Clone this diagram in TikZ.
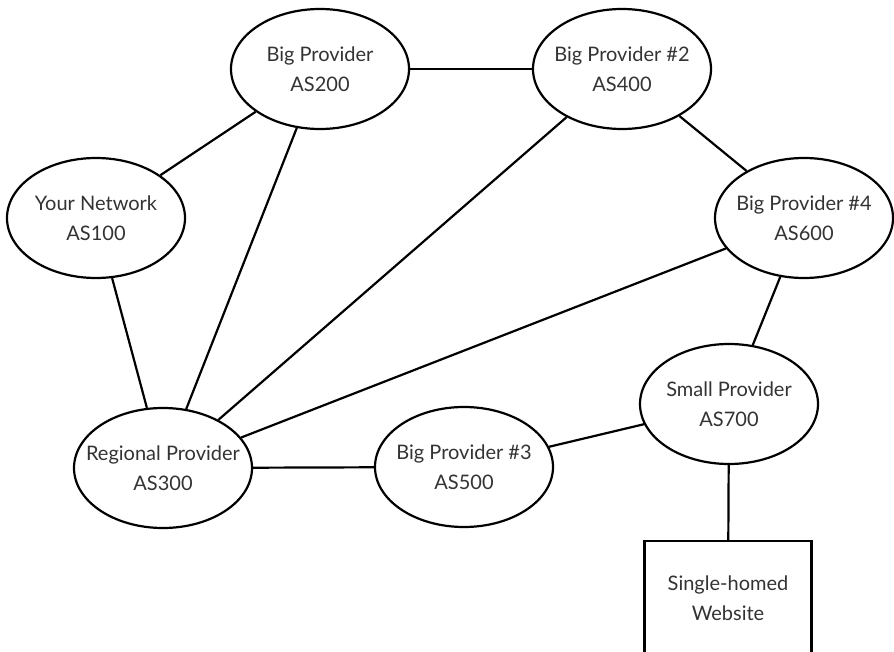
\documentclass[tikz,border=0pt]{standalone}
\usepackage{fontspec}
\setmainfont{Lato}
\usetikzlibrary{shapes.geometric}
\definecolor{txtgray}{gray}{0.2}
\begin{document}
\begin{tikzpicture}[x=1pt,y=-1pt,
  asnode/.style={ellipse,draw,line width=2.2pt,minimum width=178pt,minimum height=120pt,
    inner xsep=-40pt,inner ysep=-20pt,align=center,font=\fontsize{20}{30}\selectfont,text=txtgray},
  sitebox/.style={rectangle,draw,line width=2.2pt,minimum width=167pt,minimum height=114pt,
    inner sep=0pt,align=center,font=\fontsize{20}{30}\selectfont,text=txtgray},
  link/.style={line width=2.2pt}]
\useasboundingbox (0,0) rectangle (894,652);
\clip (0,0) rectangle (894,652);
\node[asnode] (as200) at (320,69) {Big Provider\\AS200};
\node[asnode] (as100) at (96,218) {Your Network\\AS100};
\node[asnode] (as400) at (622,69) {Big Provider \#2\\AS400};
\node[asnode] (as600) at (804,218) {Big Provider \#4\\AS600};
\node[asnode] (as300) at (163,468) {Regional Provider\\AS300};
\node[asnode] (as500) at (464,467) {Big Provider \#3\\AS500};
\node[asnode] (as700) at (729,404) {Small Provider\\AS700};
\node[sitebox] (site) at (728,598) {Single-homed\\Website};
\draw[link] (as100) -- (as200);
\draw[link] (as200) -- (as300);
\draw[link] (as100) -- (as300);
\draw[link] (as200) -- (as400);
\draw[link] (as400) -- (as300);
\draw[link] (as400) -- (as600);
\draw[link] (as600) -- (as300);
\draw[link] (as600) -- (as700);
\draw[link] (as300) -- (as500);
\draw[link] (as500) -- (as700);
\draw[link] (as700) -- (site);
\end{tikzpicture}
\end{document}
